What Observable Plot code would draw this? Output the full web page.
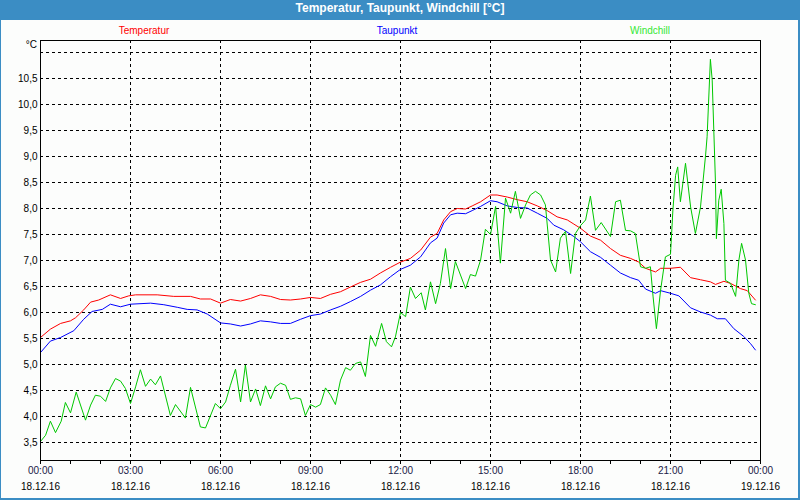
<!DOCTYPE html>
<html>
<head>
<meta charset="utf-8">
<script src="https://cdn.jsdelivr.net/npm/d3@7"></script>
<script src="https://cdn.jsdelivr.net/npm/@observablehq/plot@0.6"></script>
<style>
  html, body { margin: 0; padding: 0; background: #ffffff; }
  #win { position: relative; width: 800px; height: 500px; background: #3b8dc4; overflow: hidden; }
  #title { position: absolute; left: 0; top: 1px; width: 800px; height: 20px; line-height: 20px; text-align: center;
           color: #ffffff; font: bold 12px "Liberation Sans Narrow", "Liberation Sans", Arial, sans-serif; }
  #panel { position: absolute; left: 1px; top: 20px; width: 797px; height: 478px; background: #fcfdfc; }
  #chart { position: absolute; left: 0; top: 0; }
  .leg { position: absolute; top: 24px; width: 120px; text-align: center; font: 10px "Liberation Sans", Arial, sans-serif; line-height: 13px; }
  #unit { position: absolute; left: 0; width: 37px; top: 38px; text-align: right; font: 10px "Liberation Sans", Arial, sans-serif; line-height: 13px; color: #000; }
</style>
</head>
<body>
<div id="win">
  <div id="panel"></div>
  <div id="title">Temperatur, Taupunkt, Windchill [°C]</div>
  <div id="unit">°C</div>
  <div id="chart"></div>
</div>
<script>
// ---- Data (hour of day, °C) ----
const temperatur = [
  [0,5.52],[0.33,5.68],[0.67,5.79],[1.0,5.84],[1.17,5.90],[1.44,6.05],[1.67,6.20],[1.94,6.24],[2.33,6.34],[2.67,6.27],
  [2.94,6.32],[3.17,6.34],[3.89,6.34],[4.44,6.31],[5.0,6.31],[5.33,6.26],[5.67,6.26],[6.0,6.18],[6.33,6.25],[6.67,6.22],
  [7.0,6.27],[7.33,6.34],[7.67,6.31],[8.0,6.25],[8.33,6.24],[8.67,6.26],[9.0,6.29],[9.33,6.27],[9.67,6.35],[10.0,6.40],
  [10.33,6.49],[10.67,6.58],[11.0,6.64],[11.33,6.76],[11.67,6.87],[12.0,6.97],[12.33,7.04],[12.67,7.20],[13.0,7.45],[13.22,7.52],
  [13.44,7.78],[13.67,7.94],[13.89,8.0],[14.17,7.99],[14.39,8.05],[14.67,8.13],[15.0,8.26],[15.22,8.26],[15.56,8.22],[15.89,8.17],
  [16.22,8.13],[16.56,8.05],[16.89,7.96],[17.22,7.84],[17.56,7.78],[17.78,7.70],[18.0,7.62],[18.33,7.47],[18.67,7.39],[19.0,7.23],
  [19.33,7.10],[19.67,7.04],[19.94,6.97],[20.17,6.85],[20.5,6.78],[20.67,6.85],[21.0,6.85],[21.33,6.87],[21.67,6.67],[22.0,6.63],
  [22.33,6.59],[22.5,6.54],[22.78,6.60],[23.0,6.56],[23.33,6.46],[23.56,6.42],[23.83,6.24]
];
const taupunkt = [
  [0,5.23],[0.33,5.45],[0.67,5.52],[1.11,5.65],[1.44,5.87],[1.72,6.02],[2.06,6.06],[2.33,6.16],[2.67,6.11],[3.0,6.16],
  [3.67,6.18],[4.11,6.15],[4.56,6.10],[4.89,6.06],[5.22,6.05],[5.56,5.97],[6.0,5.80],[6.33,5.78],[6.67,5.74],[7.0,5.78],
  [7.33,5.84],[7.67,5.82],[8.0,5.79],[8.33,5.79],[8.67,5.87],[9.0,5.94],[9.33,5.97],[9.67,6.05],[10.0,6.12],[10.33,6.21],
  [10.67,6.31],[11.0,6.43],[11.33,6.53],[11.67,6.69],[12.0,6.83],[12.33,6.91],[12.67,7.07],[13.0,7.34],[13.22,7.43],[13.44,7.72],
  [13.67,7.88],[13.89,7.91],[14.17,7.90],[14.39,7.96],[14.67,8.04],[15.0,8.15],[15.22,8.13],[15.56,8.05],[15.89,8.02],[16.22,8.01],
  [16.56,7.91],[16.89,7.81],[17.11,7.68],[17.44,7.59],[17.78,7.46],[18.0,7.36],[18.33,7.17],[18.67,7.06],[19.0,6.91],[19.33,6.76],
  [19.67,6.67],[19.94,6.62],[20.17,6.45],[20.5,6.37],[20.67,6.42],[21.0,6.37],[21.28,6.32],[21.67,6.09],[22.0,6.01],[22.33,5.95],
  [22.56,5.88],[22.83,5.88],[23.11,5.69],[23.44,5.54],[23.67,5.40],[23.83,5.28]
];
const windchill = [
  [0,3.52],[0.17,3.64],[0.33,3.91],[0.5,3.69],[0.69,3.91],[0.83,4.27],[1.0,4.07],[1.19,4.47],[1.5,3.93],[1.67,4.22],
  [1.83,4.41],[2.0,4.39],[2.17,4.29],[2.33,4.55],[2.5,4.73],[2.67,4.68],[2.83,4.54],[3.0,4.25],[3.17,4.57],[3.33,4.90],
  [3.5,4.58],[3.67,4.72],[3.83,4.61],[4.0,4.78],[4.33,4.02],[4.5,4.23],[4.83,3.97],[5.0,4.56],[5.33,3.80],[5.5,3.78],
  [5.83,4.25],[6.0,4.15],[6.17,4.28],[6.33,4.60],[6.5,4.91],[6.67,4.28],[6.83,4.99],[7.0,4.28],[7.17,4.53],[7.33,4.21],
  [7.5,4.59],[7.67,4.34],[7.83,4.57],[8.0,4.64],[8.17,4.60],[8.33,4.33],[8.5,4.36],[8.67,4.34],[8.83,4.02],[9.0,4.23],
  [9.17,4.18],[9.33,4.23],[9.5,4.55],[9.67,4.41],[9.83,4.23],[10.0,4.70],[10.17,4.94],[10.33,4.89],[10.5,5.02],[10.67,5.05],
  [10.83,4.77],[11.0,5.56],[11.17,5.35],[11.37,5.79],[11.53,5.44],[11.7,5.34],[11.83,5.53],[12.0,6.0],[12.17,5.92],[12.33,6.49],
  [12.5,6.27],[12.69,6.38],[12.83,6.05],[13.0,6.59],[13.17,6.17],[13.33,6.56],[13.5,7.23],[13.67,6.46],[13.83,6.98],[14.17,6.46],
  [14.33,6.73],[14.5,6.70],[14.67,7.01],[14.83,7.60],[15.0,7.50],[15.17,8.04],[15.33,6.95],[15.5,8.20],[15.67,7.91],[15.83,8.33],
  [16.0,7.81],[16.17,8.07],[16.33,8.26],[16.5,8.33],[16.67,8.26],[16.83,8.07],[17.0,7.01],[17.17,6.78],[17.33,7.43],[17.5,7.56],
  [17.67,6.75],[17.83,7.52],[18.0,7.67],[18.17,7.78],[18.33,8.24],[18.5,7.58],[18.69,7.73],[19.0,7.46],[19.17,8.13],[19.33,8.16],
  [19.5,7.58],[19.67,7.57],[19.83,7.52],[20.0,6.88],[20.17,6.85],[20.33,6.88],[20.42,6.30],[20.53,5.69],[20.67,6.43],[20.83,7.07],
  [21.0,7.12],[21.08,7.97],[21.17,8.64],[21.24,8.80],[21.33,8.13],[21.5,8.87],[21.67,8.03],[21.83,7.52],[22.0,8.03],[22.17,9.03],
  [22.22,9.38],[22.33,10.87],[22.39,10.47],[22.5,8.48],[22.53,7.42],[22.61,8.16],[22.69,8.37],[22.78,7.71],[22.83,6.62],[23.0,6.56],
  [23.17,6.31],[23.28,7.01],[23.37,7.33],[23.5,7.01],[23.61,6.37],[23.7,6.17],[23.83,6.15]
];

// ---- Axis definitions ----
const majorTicks = [0, 3, 6, 9, 12, 15, 18, 21, 24];
const timeLabels = ["00:00","03:00","06:00","09:00","12:00","15:00","18:00","21:00","00:00"];
const dateLabels = ["18.12.16","18.12.16","18.12.16","18.12.16","18.12.16","18.12.16","18.12.16","18.12.16","19.12.16"];
const minorTicks = [0,1,2,3,4,5,6,7,8,9,10,11,12,13,14,15,16,17,18,19,20,21,22,23,24];
const yGridValues = [3.5,4.0,4.5,5.0,5.5,6.0,6.5,7.0,7.5,8.0,8.5,9.0,9.5,10.0,10.5,11.0];
const yTickValues = [3.5,4.0,4.5,5.0,5.5,6.0,6.5,7.0,7.5,8.0,8.5,9.0,9.5,10.0,10.5];
const yTickLabels = ["3,5","4,0","4,5","5,0","5,5","6,0","6,5","7,0","7,5","8,0","8,5","9,0","9,5","10,0","10,5"];
const xGridValues = [3, 6, 9, 12, 15, 18, 21];
const seriesNames = ["Temperatur", "Taupunkt", "Windchill"];
const lineColors = ["#ff0000", "#0000ff", "#00c800"];
const legendColors = ["#ff0000", "#0000ff", "#33e833"];
const legendCenters = [144, 397, 650];

const toRows = arr => arr.map(([h, v]) => ({h, v}));
const dash = {stroke: "#000", strokeDasharray: "3,3", strokeWidth: 1};

const chart = Plot.plot({
  width: 800,
  height: 500,
  marginLeft: 40,
  marginRight: 40,
  marginTop: 40,
  marginBottom: 40,
  style: {background: "transparent", fontFamily: "'Liberation Sans', Arial, sans-serif", fontSize: "10px", color: "#000"},
  x: {domain: [0, 24], axis: null, label: null},
  y: {domain: [3.154, 11.231], axis: null, label: null},
  marks: [
    Plot.ruleY(yGridValues, {y: d => d, ...dash}),
    Plot.ruleX(xGridValues, {x: d => d, ...dash}),
    Plot.line(toRows(temperatur), {x: "h", y: "v", stroke: lineColors[0], strokeWidth: 1}),
    Plot.line(toRows(taupunkt), {x: "h", y: "v", stroke: lineColors[1], strokeWidth: 1}),
    Plot.line(toRows(windchill), {x: "h", y: "v", stroke: lineColors[2], strokeWidth: 1}),
    Plot.frame({stroke: "#000", strokeWidth: 1}),
    Plot.axisX({ticks: minorTicks, tickSize: 4, tickFormat: () => "", stroke: "#000", label: null}),
    Plot.text(majorTicks, {x: d => d, text: (d, i) => timeLabels[i], frameAnchor: "bottom", dy: 13, fill: "#1a1a48"}),
    Plot.text(majorTicks, {x: d => d, text: (d, i) => dateLabels[i], frameAnchor: "bottom", dy: 29, fill: "#000"}),
    Plot.text(yTickValues, {y: d => d, text: (d, i) => yTickLabels[i], frameAnchor: "left", dx: -3, textAnchor: "end", fill: "#000"})
  ]
});
document.getElementById("chart").appendChild(chart);

// legend
const win = document.getElementById("win");
seriesNames.forEach((name, i) => {
  const el = document.createElement("div");
  el.className = "leg";
  el.textContent = name;
  el.style.left = (legendCenters[i] - 60) + "px";
  el.style.color = legendColors[i];
  win.appendChild(el);
});
</script>
</body>
</html>
